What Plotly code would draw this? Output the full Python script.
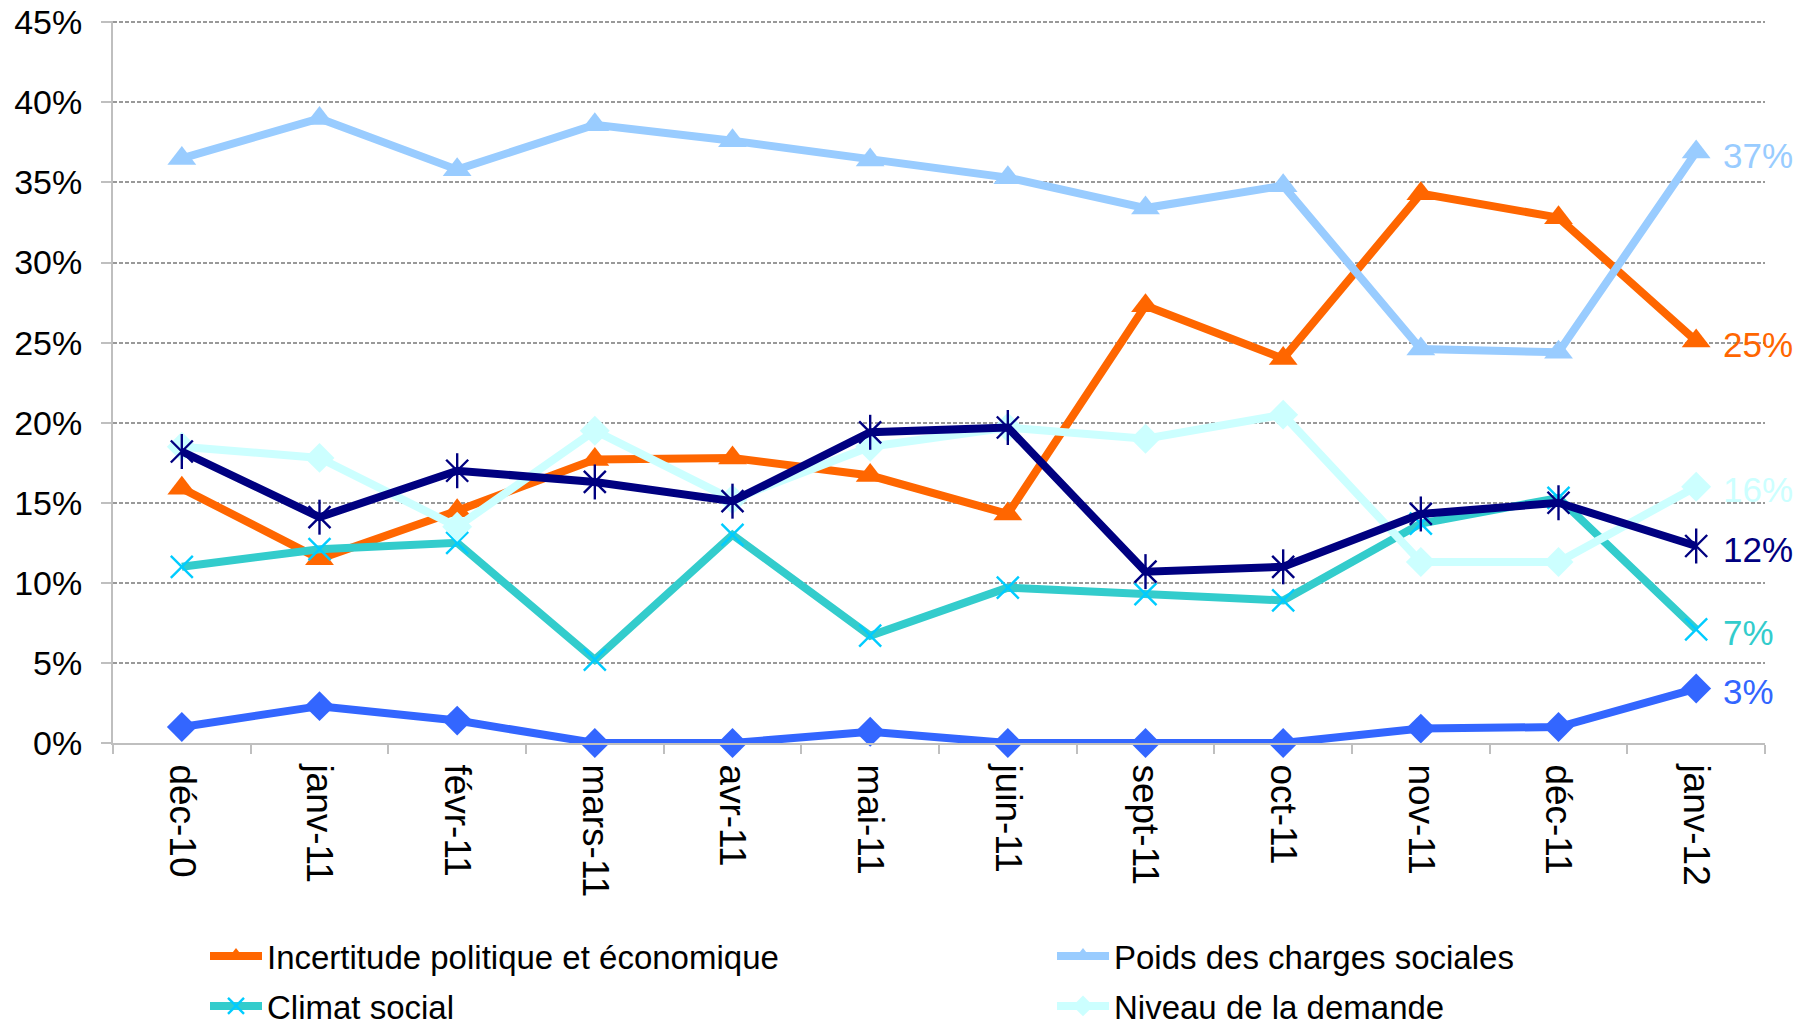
import plotly.graph_objects as go

categories = ["déc-10", "janv-11", "févr-11", "mars-11", "avr-11", "mai-11",
              "juin-11", "sept-11", "oct-11", "nov-11", "déc-11", "janv-12"]
incertitude = [15.9, 11.5, 14.5, 17.7, 17.8, 16.7, 14.3, 27.3, 24.0, 34.3, 32.8, 25.1]
charges = [36.5, 39.0, 35.8, 38.6, 37.6, 36.4, 35.3, 33.4, 34.8, 24.6, 24.4, 36.9]
climat = [11.0, 12.1, 12.5, 5.2, 13.0, 6.7, 9.7, 9.3, 8.9, 13.7, 15.3, 7.1]
demande = [18.5, 17.8, 13.5, 19.5, 15.2, 18.5, 19.7, 19.0, 20.5, 11.3, 11.3, 16.0]
serie5 = [18.2, 14.1, 17.0, 16.3, 15.1, 19.4, 19.7, 10.7, 11.0, 14.3, 15.0, 12.3]
serie6 = [1.0, 2.3, 1.4, 0.0, 0.0, 0.7, 0.0, 0.0, 0.0, 0.9, 1.0, 3.4]
y_ticks = [0, 5, 10, 15, 20, 25, 30, 35, 40, 45]

FONT = "Liberation Sans, Arial, sans-serif"
LW = 8
W, H = 1815, 1030
OFF = 8  # page body margin

fig = go.Figure()

def add(name, y, color, symbol, msize, mcolor=None, mline=0, legend="legend", show=True):
    fig.add_trace(go.Scatter(
        x=categories, y=y, name=name, mode="lines+markers",
        line=dict(color=color, width=LW),
        marker=dict(symbol=symbol, size=msize, color=mcolor or color,
                    line=dict(width=mline, color=mcolor or color)),
        legend=legend, showlegend=show, cliponaxis=False,
    ))

add("Incertitude politique et économique", incertitude, "#FF6600", "triangle-up", 25, legend="legend")
add("Poids des charges sociales", charges, "#99CCFF", "triangle-up", 25, legend="legend2")
add("Climat social", climat, "#33CCCC", "x-thin", 22, mcolor="#00CCFF", mline=2.4, legend="legend3")
add("Niveau de la demande", demande, "#CCFFFF", "diamond", 23, legend="legend4")
add("Série 5", serie5, "#000080", "x-thin", 22, mcolor="#000080", mline=2.4, show=False)
fig.add_trace(go.Scatter(x=categories, y=serie5, mode="markers", showlegend=False,
                         marker=dict(symbol="line-ns", size=25, line=dict(width=2.4, color="#000080")),
                         cliponaxis=False))
add("Série 6", serie6, "#3366FF", "diamond", 23, show=False)

# end labels
ends = [(charges, "#99CCFF"), (incertitude, "#FF6600"), (demande, "#CCFFFF"),
        (serie5, "#000080"), (climat, "#33CCCC"), (serie6, "#3366FF")]
for vals, col in ends:
    fig.add_annotation(x=categories[-1], y=vals[-1], text=f"{round(vals[-1])}%",
                       showarrow=False, xanchor="left", yanchor="middle", xshift=25, yshift=-3,
                       font=dict(family=FONT, size=35, color=col))

def leg(xpx, ypx):
    return dict(orientation="h", xref="container", yref="container",
                x=(xpx - OFF) / W, y=1 - (ypx - OFF) / H, yanchor="middle", xanchor="left",
                itemwidth=52,
                font=dict(family=FONT, size=33, color="black"), bgcolor="rgba(0,0,0,0)")

fig.update_layout(
    width=W, height=H,
    margin=dict(l=113 - OFF, r=W - (1765 - OFF), t=21 - OFF, b=H - (743 - OFF)),
    paper_bgcolor="white", plot_bgcolor="white",
    font=dict(family=FONT, color="black"),
    xaxis=dict(
        type="category", tickangle=90, tickson="boundaries", ticks="outside",
        ticklen=9, tickcolor="#BFBFBF", tickwidth=1.5, ticklabelstandoff=12,
        showline=True, linecolor="#BFBFBF", linewidth=2, automargin=False,
        showgrid=False, tickfont=dict(family=FONT, size=37, color="black"),
        range=[-0.5, len(categories) - 0.5],
    ),
    yaxis=dict(
        range=[0, 45.08], tickmode="array", tickvals=y_ticks,
        ticktext=[f"{v}%" for v in y_ticks], ticklabeloverflow="allow",
        ticks="outside", ticklen=10,
        tickcolor="#BFBFBF", tickwidth=1.5, automargin=False, ticklabelstandoff=12,
        showline=True, linecolor="#BFBFBF", linewidth=2,
        showgrid=True, gridcolor="#999999", gridwidth=1.5, griddash="4px,2px",
        zeroline=False, tickfont=dict(family=FONT, size=34, color="black"),
    ),
    legend=leg(205, 956),
    legend2=leg(1052, 956),
    legend3=leg(205, 1006),
    legend4=leg(1052, 1006),
)

fig.write_html("out.html")
